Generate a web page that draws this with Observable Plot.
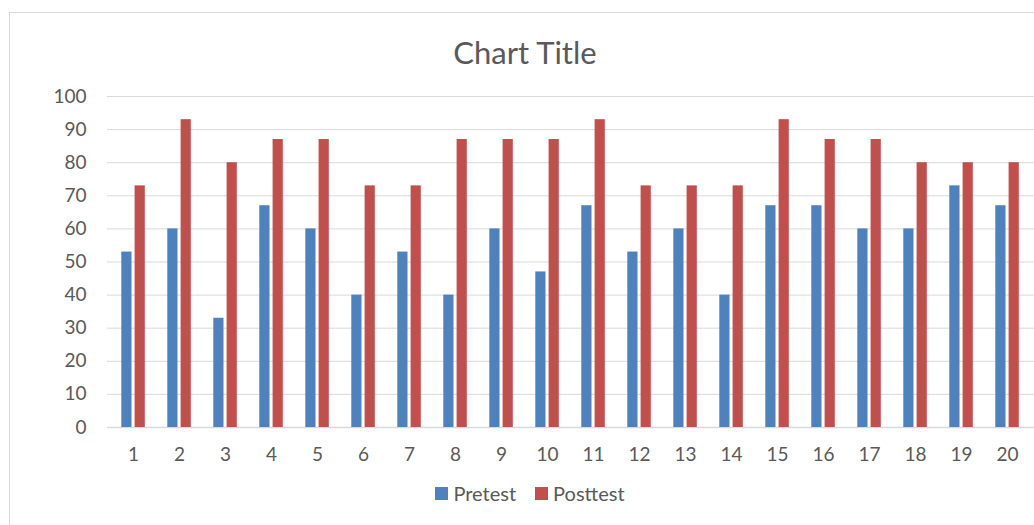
<!DOCTYPE html>
<html>
<head>
<meta charset="utf-8">
<script src="https://cdn.jsdelivr.net/npm/d3@7"></script>
<script src="https://cdn.jsdelivr.net/npm/@observablehq/plot@0.6"></script>
<style>
  html, body { margin: 0; padding: 0; background: #fff; overflow: hidden; width: 1034px; height: 525px; }
  #frame { position: absolute; left: 9px; top: 12px; width: 1060px; height: 600px; border: 1px solid #d9d9d9; box-sizing: border-box; }
  #title { position: absolute; left: 0; top: 37px; width: 1050px; text-align: center; font-family: Lato, sans-serif; font-size: 31px; color: #595959; line-height: 1; }
  #chart { position: absolute; left: 0; top: 0; width: 1060px; }
  #chart svg { max-width: none !important; }
  #legend { position: absolute; top: 481px; left: 0; width: 1060px; display: flex; justify-content: center; gap: 19px; font-family: Lato, sans-serif; font-size: 20px; color: #595959; }
  .item { display: flex; align-items: center; gap: 5px; }
  .sw { width: 13px; height: 13px; display: inline-block; }
</style>
</head>
<body>
<div id="frame"></div>
<div id="title">Chart Title</div>
<div id="chart"></div>
<div id="legend"></div>
<script>
const categories = ["1","2","3","4","5","6","7","8","9","10","11","12","13","14","15","16","17","18","19","20"];
const pretest  = [53,60,33,67,60,40,53,40,60,47,67,53,60,40,67,67,60,60,73,67];
const posttest = [73,93,80,87,87,73,73,87,87,87,93,73,73,73,93,87,87,80,80,80];
const yTicks = [0,10,20,30,40,50,60,70,80,90,100];
const seriesNames = ["Pretest", "Posttest"];
const seriesColors = ["#4F81BD", "#C0504D"];

const data = categories.map((c, i) => ({cat: c, pre: pretest[i], post: posttest[i]}));

const chart = Plot.plot({
  width: 1060,
  height: 470,
  marginLeft: 107,
  marginRight: 20,
  marginTop: 96,
  marginBottom: 43,
  style: { fontFamily: "Lato, sans-serif", fontSize: "19px", color: "#595959", background: "transparent", overflow: "visible", maxWidth: "none" },
  x: { type: "band", domain: categories, range: [108, 1031], padding: 0, tickSize: 0, tickPadding: 20, label: null },
  y: { domain: [0, 100], ticks: yTicks, tickSize: 0, tickPadding: 21, label: null },
  marks: [
    Plot.gridY(yTicks, { stroke: "#d9d9d9", strokeOpacity: 1, strokeWidth: 1 }),
    Plot.ruleY([0], { stroke: "#d9d9d9", strokeWidth: 1.5 }),
    Plot.barY(data, { x: "cat", y: "pre", fill: seriesColors[0], insetLeft: 11.3, insetRight: 24.5 }),
    Plot.barY(data, { x: "cat", y: "post", fill: seriesColors[1], insetLeft: 24.6, insetRight: 11.2 })
  ]
});
document.getElementById("chart").appendChild(chart);

const legend = document.getElementById("legend");
seriesNames.forEach((n, i) => {
  const it = document.createElement("div");
  it.className = "item";
  it.innerHTML = `<span class="sw" style="background:${seriesColors[i]}"></span><span>${n}</span>`;
  legend.appendChild(it);
});
</script>
</body>
</html>
